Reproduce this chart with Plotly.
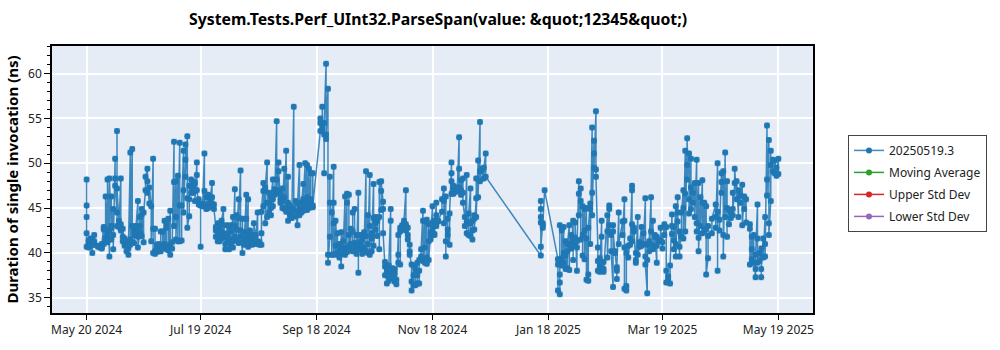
import pandas as pd
import plotly.graph_objects as go

# ---------------- data ----------------
start_date = "2024-05-20"
# day offsets (days since start_date) of each run day
day_offsets = [
    0, 1, 2, 3, 4, 6, 7, 8, 9, 10, 11, 12, 13, 14, 15, 16, 17, 18, 19, 20,
    21, 22, 23, 24, 25, 26, 27, 28, 29, 30, 31, 32, 33, 34, 35, 36, 37, 38, 39, 40,
    41, 42, 43, 44, 45, 46, 47, 48, 49, 50, 51, 52, 53, 54, 55, 56, 57, 58, 59, 60,
    61, 62, 63, 64, 65, 66, 67, 68, 69, 70, 71, 72, 73, 74, 75, 76, 77, 78, 79, 80,
    81, 82, 83, 84, 85, 86, 87, 88, 89, 90, 91, 92, 93, 94, 95, 96, 97, 98, 99, 100,
    101, 102, 103, 104, 105, 106, 107, 108, 109, 110, 111, 112, 113, 114, 115, 116, 117, 118, 119,
    123, 124, 125, 126, 127, 128, 129, 130, 131, 132, 133, 134, 135, 136, 137, 138, 139, 140,
    141, 142, 143, 144, 145, 146, 147, 148, 149, 150, 151, 152, 153, 154, 155, 156, 157, 158, 159, 160,
    161, 162, 163, 164, 165, 166, 167, 168, 169, 170, 171, 172, 173, 174, 175, 176, 177, 178, 179, 180,
    181, 182, 183, 184, 185, 187, 188, 189, 190, 191, 192, 193, 194, 195, 196, 197, 198, 199, 200,
    201, 202, 203, 204, 205, 206, 207, 208, 209, 210,
    239, 240, 241, 248, 249, 250, 251, 252, 253, 254, 255, 256, 257, 258, 259, 260,
    261, 262, 263, 264, 265, 266, 267, 268, 269, 270, 271, 272, 274, 275, 276, 277, 278, 279, 280,
    282, 283, 284, 285, 286, 287, 288, 289, 290, 291, 292, 293, 294, 295, 296, 297, 298, 299, 300,
    301, 302, 303, 304, 305, 306, 307, 308, 309, 310, 311, 312, 313, 314, 315, 316, 317, 318, 319, 320,
    321, 322, 323, 324, 325, 326, 327, 329, 331, 332, 333, 334, 335, 336, 337, 338, 339, 340,
    341, 342, 343, 344, 345, 346, 347, 349, 350, 351, 352, 353, 354, 355, 356, 357, 358, 359, 360,
    361, 362, 363, 364,
]
# durations (ns) of the runs on each of those days
day_values = [
    [45.3, 44.0, 48.2, 42.2, 40.7], [41.0, 40.6, 41.4], [41.2, 40.8, 41.6], [40.0, 40.9, 41.5],
    [42.0, 41.3, 40.9], [40.8, 40.7], [40.6, 40.7], [40.5, 40.7, 41.0], [42.9, 42.6, 41.0],
    [42.6, 41.6, 46.3], [42.0, 41.2, 48.2], [39.6, 42.5, 48.3], [43.0, 41.5, 46.3, 42.8],
    [44.9, 42.0, 40.4], [50.5, 48.3, 47.5], [44.5, 53.6, 43.0, 47.2], [43.6, 42.9],
    [48.3, 43.2, 42.5], [41.8, 41.3, 42.7], [41.0, 40.8, 41.6],
    [41.3, 40.2, 41.0], [39.8, 41.2, 40.5], [51.2, 41.5, 40.9], [51.6, 41.2, 43.0],
    [42.0, 42.5, 41.1], [42.9, 42.4, 43.0], [45.8, 41.8, 40.6], [42.3, 43.0, 44.0],
    [41.9, 44.3, 44.9], [41.2, 44.5], [47.0, 48.5], [49.4, 46.7, 48.0], [45.5, 47.3],
    [45.2, 41.3], [50.5, 40.0, 42.7], [42.7, 40.2, 39.9], [40.5, 40.9, 40.1],
    [40.3, 40.7, 41.0], [40.5, 42.4, 40.2], [40.8, 42.4, 40.6],
    [43.6, 40.9, 41.0], [43.3, 40.4, 42.8], [43.8, 40.8, 40.3], [44.7, 39.8, 40.9],
    [41.2, 40.5], [52.4, 47.9, 43.0], [48.0, 44.0, 41.5], [48.6, 41.3], [52.3, 45.3, 41.3],
    [41.4, 45.3], [51.4, 47.0, 44.5], [50.4, 52.1, 48.5], [53.0, 46.1, 42.8], [44.1, 46.0, 47.5],
    [48.2, 46.7, 47.5], [47.2, 46.7, 48.0], [46.9, 47.8, 45.8], [50.1, 48.7, 47.0],
    [45.4, 46.0], [45.3, 40.7, 45.4],
    [45.5, 45.2], [51.1, 46.9, 45.4], [45.1, 46.2, 44.9], [45.4, 46.5, 45.0], [45.3, 46.0],
    [47.8, 45.5, 46.2], [45.4, 44.9], [42.9, 42.5, 41.8], [42.4, 43.3, 41.3], [42.0, 41.3, 43.0],
    [42.4, 41.6, 43.6], [44.9, 41.8, 43.1], [42.0, 40.4, 41.0], [41.5, 43.1, 42.2],
    [40.4, 42.9, 41.6], [43.1, 41.0, 42.4], [44.0, 41.3, 40.6], [47.1, 43.0, 41.8],
    [44.2, 41.4, 42.6], [46.0, 41.1, 43.9],
    [49.2, 41.8, 42.5], [40.0, 43.8, 41.2], [42.3, 40.9, 41.6], [46.5, 43.8, 41.4],
    [46.0, 40.7, 42.0], [41.6, 41.3, 42.5], [40.9, 41.2, 42.0], [41.4, 41.0, 43.3],
    [42.0, 41.2], [44.5, 41.0, 41.3], [41.2, 40.9], [40.9, 42.2, 44.6], [47.8, 46.9, 45.2],
    [46.9, 43.3, 47.3], [50.1, 45.6, 44.0], [44.5, 45.6, 46.7], [45.0, 44.2, 46.2],
    [48.2, 46.0, 45.2], [47.1, 46.5], [54.7, 48.2, 47.0],
    [50.1, 46.7, 49.1], [46.0, 45.6, 46.5], [47.2, 45.8, 45.0], [49.4, 46.2, 44.9],
    [51.4, 45.0, 44.6], [48.5, 45.6, 43.6], [44.2, 45.3], [45.0, 43.9, 44.6], [56.3, 44.8],
    [45.8, 44.1], [43.1, 44.6, 45.5], [49.8, 44.9, 44.2], [45.6, 44.5, 45.2], [47.7, 44.7, 46.0],
    [50.0, 45.5, 45.0], [49.8, 46.2, 44.8], [49.4, 45.6, 45.0], [48.9, 46.0, 45.6], [45.1, 48.9, 45.3],
    [53.6, 54.5, 55.0], [53.8, 56.3, 54.3], [53.2, 48.9, 54.5], [61.1, 52.7, 53.2],
    [58.3, 39.8, 38.9], [41.8, 48.5, 45.6], [44.5, 39.8], [49.6, 45.6, 39.8, 43.3],
    [39.9, 40.8, 43.6], [40.0, 42.2, 39.8], [41.0, 39.5, 40.6], [38.5, 40.2, 42.3],
    [41.3, 39.9, 40.6], [46.3, 40.5, 39.8], [45.6, 40.1, 46.6], [46.5, 42.0, 40.8],
    [42.7, 41.0, 40.3], [40.2, 42.4, 44.5],
    [44.9, 40.4, 41.1], [40.7, 42.0, 39.9], [46.7, 37.8, 40.8], [41.2, 40.4, 42.0],
    [41.5, 39.9, 40.6], [42.3, 40.5], [49.1, 40.2, 41.9], [44.2, 40.0, 41.0], [48.7, 43.0, 39.8],
    [40.2, 42.2, 41.6], [47.7, 43.9, 40.8], [43.3, 44.0, 42.6], [41.9, 43.6], [44.0, 40.4, 47.9],
    [46.9, 44.8, 48.0], [45.7, 44.9, 42.2], [38.5, 37.5, 39.0], [36.6, 37.9, 38.2],
    [37.4, 36.9, 38.6], [44.9, 43.6, 37.6],
    [38.0, 37.2, 38.3], [36.8, 37.7, 38.2], [37.0, 36.5], [42.0, 39.8, 38.9], [38.7, 42.4, 42.8],
    [43.1, 42.6], [43.0, 43.6], [47.0, 42.5, 43.2], [42.0, 41.5, 42.8], [40.9, 40.2, 39.8],
    [38.7, 35.8, 36.8], [37.5, 38.6, 36.4], [36.4, 37.6, 38.2], [38.9, 37.5, 36.6],
    [36.6, 38.0, 39.2], [39.6, 40.4], [44.7, 43.6, 39.1], [43.5, 38.9, 40.6], [43.7, 39.5, 38.8],
    [41.3, 43.2, 39.2],
    [42.3, 41.5, 41.9], [45.2, 42.7, 43.4], [42.0, 43.6, 42.1], [45.6, 44.2, 43.0], [43.5, 43.6],
    [44.6, 46.0], [47.2, 45.8, 43.3], [46.3, 39.6, 41.3], [42.6, 43.8, 42.0], [40.9, 44.4],
    [50.1, 48.9, 48.0, 46.6], [47.2, 46.6, 47.5], [46.8, 47.0], [47.3, 46.9], [52.9, 49.4, 47.3],
    [48.1, 47.0, 46.5], [48.3, 46.7, 45.6], [44.0, 43.0], [48.7, 42.2, 43.5],
    [43.3, 42.0, 44.4], [47.2, 43.3, 41.9], [41.5, 42.5, 43.6], [44.2, 43.8, 42.6],
    [46.1, 48.3, 44.0], [50.3, 46.2], [54.6, 49.1, 48.0], [49.4, 49.2], [48.3, 49.5], [51.1, 48.5],
    [39.7, 45.8, 44.9, 44.0, 43.4, 40.7], [43.3, 42.8, 43.1], [47.0], [39.3, 38.7, 35.8],
    [35.4, 36.7, 37.6, 43.1, 39.0], [38.6, 39.4, 42.5], [38.9, 42.9, 40.0], [41.3, 39.7, 38.2],
    [40.2, 38.3, 41.0], [43.1, 38.1, 40.8], [42.0, 41.0, 40.5], [43.6, 39.2, 41.5],
    [41.7, 40.8, 43.4], [38.0, 41.3, 40.6], [48.0, 46.6, 44.2], [47.2, 41.5, 45.8],
    [45.2, 39.7, 42.0], [44.9, 42.5, 39.3], [45.0, 37.0, 41.6], [36.9, 37.6, 42.8],
    [45.5, 44.9, 41.0], [54.0, 46.7, 44.2], [52.5, 51.1, 49.5], [55.8, 49.3, 48.5],
    [40.6, 39.1, 38.0], [38.5, 39.4, 37.9], [43.6, 41.8, 38.3], [38.2, 39.0, 37.9],
    [44.2, 42.4, 39.5], [45.3, 44.9, 43.1], [42.0, 40.2], [36.2, 43.1, 42.4], [40.0, 40.2],
    [38.0, 37.1, 38.4], [44.5, 41.0],
    [43.5, 42.0], [46.0, 43.6, 40.6, 36.0], [35.8, 36.3, 40.0], [40.8, 39.5], [41.6, 40.9],
    [47.5, 47.0, 43.2, 41.3], [42.8, 42.4], [38.9, 40.0, 39.2], [44.0, 39.8], [40.7, 41.2],
    [42.9, 40.8], [42.2, 41.0], [46.1, 39.6, 38.7], [35.5, 39.2, 40.9], [40.2, 41.3],
    [46.2, 40.9, 42.4], [43.6, 40.4], [41.8, 42.0], [38.9, 41.8, 40.8],
    [41.5, 41.3], [41.3, 42.8], [40.5, 41.2], [43.2, 42.0], [42.9, 38.0, 36.7], [37.4, 37.0],
    [36.6, 38.6], [44.3, 43.0, 42.1], [41.4, 42.9, 40.4], [45.2, 41.0, 39.6], [46.2, 43.5, 44.5],
    [39.6, 42.4, 40.7], [41.8, 44.5], [47.0, 45.0, 41.6], [51.4, 46.6, 42.4], [52.8, 49.8, 48.2],
    [51.1, 46.0, 44.4], [50.5, 47.3, 44.9], [46.7, 45.6], [47.8, 44.0],
    [50.4, 43.3, 42.4], [47.8, 41.7, 40.2], [46.2, 43.0], [48.1, 45.6, 42.2], [45.6, 42.5],
    [45.2, 42.7, 37.6], [39.4, 43.0, 41.9], [42.2, 43.8], [45.4, 44.0, 42.8], [50.0, 38.0, 44.6],
    [43.7, 42.5], [48.9, 47.9, 46.7], [49.1, 42.0, 39.6], [51.2, 44.0], [48.0, 41.8, 45.0],
    [44.8, 43.2], [44.5, 43.9], [44.9, 46.7, 44.2],
    [47.8, 49.4], [46.0, 48.0], [44.0, 47.0], [45.6, 46.4], [47.6, 43.1], [46.3, 44.9],
    [46.0, 43.4], [43.2, 42.7, 38.7], [41.8, 40.4, 39.3], [42.0, 38.9], [37.3, 38.2, 39.8],
    [45.4, 41.6, 38.9], [40.0, 39.1], [40.5, 37.3, 38.2], [41.6, 39.5], [44.0, 41.0, 39.6],
    [54.2, 48.2, 46.4], [52.6, 43.3, 42.0], [45.8, 51.4, 49.8],
    [50.4, 49.1], [48.9, 50.3], [49.5, 48.6], [50.5, 48.8],
]

series_name = "20250519.3"
legend_only_series = ["Moving Average", "Upper Std Dev", "Lower Std Dev"]
legend_only_colors = ["#2ca02c", "#d62728", "#9467bd"]

x_tick_dates = ["2024-05-20", "2024-07-19", "2024-09-18", "2024-11-18",
                "2025-01-18", "2025-03-19", "2025-05-19"]
x_tick_text = ["May 20 2024", "Jul 19 2024", "Sep 18 2024", "Nov 18 2024",
               "Jan 18 2025", "Mar 19 2025", "May 19 2025"]
y_tick_vals = [35, 40, 45, 50, 55, 60]

title_text = "System.Tests.Perf_UInt32.ParseSpan(value: &quot;12345&quot;)"
y_title = "Duration of single invocation (ns)"

# ---------------- build ----------------
base = pd.Timestamp(start_date)
xs, ys = [], []
for off, vals in zip(day_offsets, day_values):
    d = base + pd.Timedelta(days=off)
    for v in vals:
        xs.append(d)
        ys.append(v)

FONT = "Noto Sans"
fig = go.Figure()
fig.add_trace(go.Scatter(
    x=xs, y=ys, mode="lines+markers", name=series_name,
    line=dict(color="rgba(31,119,180,0.85)", width=1.5),
    marker=dict(color="#1f77b4", size=6),
    error_y=dict(type="constant", value=0.25, color="rgba(31,119,180,0.35)",
                 thickness=1.5, width=3),
    legendgroup="a",
))
for i, (nm, col) in enumerate(zip(legend_only_series, legend_only_colors)):
    fig.add_trace(go.Scatter(
        x=[None], y=[None], mode="lines+markers", name=nm,
        line=dict(color=col, width=1.5), marker=dict(color=col, size=6),
        legendgroup="g%d" % i,
    ))

fig.update_layout(
    width=1000, height=350,
    margin=dict(l=48, r=187, t=46, b=30),
    paper_bgcolor="white",
    plot_bgcolor="#E5ECF6",
    font=dict(family=FONT, size=12, color="#222"),
    title=dict(text="<b>" + title_text + "</b>", x=0.438, xref="container",
               xanchor="center", y=0.945, yanchor="middle",
               font=dict(family=FONT, size=15.8, color="black")),
    showlegend=True,
    legend=dict(x=1.046, xanchor="left", y=0.667, yanchor="top",
                bgcolor="white", bordercolor="#444", borderwidth=1,
                font=dict(family=FONT, size=12, color="#222"),
                tracegroupgap=3, itemwidth=30),
)
fig.update_xaxes(
    type="date",
    range=["2024-05-01 19:00", "2025-06-06 05:00"],
    tickvals=x_tick_dates, ticktext=x_tick_text,
    showgrid=True, gridcolor="white", gridwidth=1.5,
    showline=True, linecolor="black", linewidth=1.5, mirror=True,
    ticks="outside", ticklen=5, tickcolor="black",
    tickfont=dict(family=FONT, size=12, color="#222"),
    zeroline=False,
)
fig.update_yaxes(
    range=[33.3, 63.08],
    tickvals=y_tick_vals,
    showgrid=True, gridcolor="white", gridwidth=1.5,
    showline=True, linecolor="black", linewidth=1.5, mirror=True,
    ticks="outside", ticklen=6, tickcolor="black",
    minor=dict(dtick=1, ticks="outside", ticklen=3, tickcolor="black", showgrid=False),
    tickfont=dict(family=FONT, size=12, color="#222"),
    title=dict(text="<b>" + y_title + "</b>", standoff=6,
               font=dict(family=FONT, size=15, color="black")),
    zeroline=False,
)
# legend drop shadow
fig.add_shape(type="rect", xref="paper", yref="paper",
              x0=(851 - 48) / 765, x1=(981 - 48) / 765,
              y0=(320 - 231) / 274, y1=(320 - 140) / 274,
              fillcolor="#8a8a8a", line=dict(width=0), layer="below")

fig.write_html("out.html")
